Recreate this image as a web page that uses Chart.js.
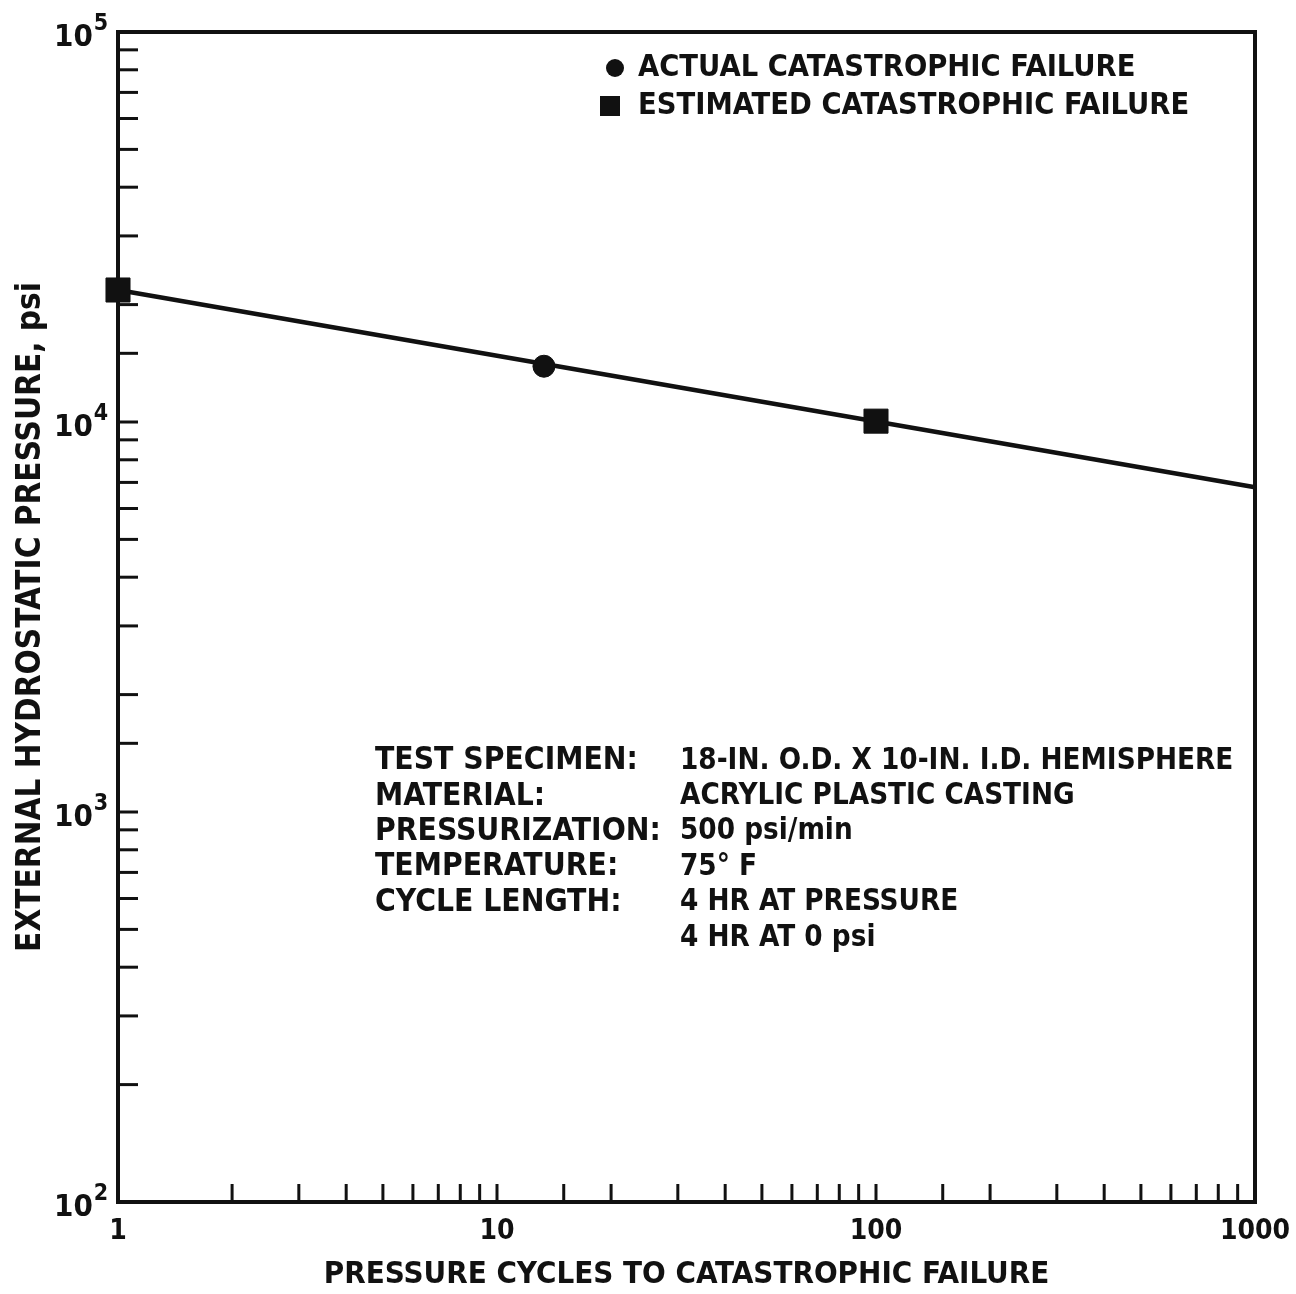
<!DOCTYPE html>
<html>
<head>
<meta charset="utf-8">
<script src="https://cdn.jsdelivr.net/npm/chart.js@4"></script>
<style>
  html, body { margin: 0; padding: 0; background: #fff; }
  #wrap { width: 1296px; height: 1294px; }
</style>
</head>
<body>
<div id="wrap"><canvas id="myChart" width="1296" height="1294"></canvas></div>
<script>
// data
const fitCycles = [1, 1000]
const fitPressure = [21800, 6800]
const actualCycles = [13.3]
const actualPressure = [13900]
const estimatedCycles = [1, 100]
const estimatedPressure = [21800, 10050]

const legendLabels = ['ACTUAL CATASTROPHIC FAILURE', 'ESTIMATED CATASTROPHIC FAILURE']
const noteKeys = ['TEST SPECIMEN:', 'MATERIAL:', 'PRESSURIZATION:', 'TEMPERATURE:', 'CYCLE LENGTH:', '']
const noteValues = ['18-IN. O.D. X 10-IN. I.D. HEMISPHERE', 'ACRYLIC PLASTIC CASTING', '500 psi/min', '75\u00B0 F', '4 HR AT PRESSURE', '4 HR AT 0 psi']
const xTickLabels = { 1: '1', 10: '10', 100: '100', 1000: '1000' }
const yTickValues = [100, 1000, 10000, 100000]
const yTickExponents = ['2', '3', '4', '5']

const FONT = "'Liberation Sans Narrow', 'DejaVu Sans Condensed', 'Liberation Sans', sans-serif"
const ink = '#111'

const pts = (xs, ys) => xs.map((x, i) => ({ x, y: ys[i] }))

// frame, inward ticks, power-of-ten labels, legend and the note block
const extras = {
    id: 'extras',
    afterDraw(chart) {
        const { ctx, chartArea: a, scales } = chart
        ctx.save()
        ctx.strokeStyle = ink
        ctx.lineWidth = 4
        ctx.strokeRect(a.left, a.top, a.right - a.left, a.bottom - a.top)

        ctx.lineWidth = 3
        const len = 18
        scales.x.ticks.forEach(t => {
            const px = scales.x.getPixelForValue(t.value)
            if (px <= a.left + 2 || px >= a.right - 2) return
            ctx.beginPath(); ctx.moveTo(px, a.bottom); ctx.lineTo(px, a.bottom - len); ctx.stroke()
        })
        scales.y.ticks.forEach(t => {
            const py = scales.y.getPixelForValue(t.value)
            if (py <= a.top + 2 || py >= a.bottom - 2) return
            ctx.beginPath(); ctx.moveTo(a.left, py); ctx.lineTo(a.left + 20, py); ctx.stroke()
        })

        ctx.fillStyle = ink
        ctx.textBaseline = 'middle'
        ctx.textAlign = 'left'

        // y labels 10^n
        yTickValues.forEach((v, i) => {
            const py = scales.y.getPixelForValue(v)
            ctx.font = 'bold 31px ' + FONT
            ctx.fillText('10', 54, py + 6)
            const w = ctx.measureText('10').width
            ctx.font = 'bold 23px ' + FONT
            ctx.fillText(yTickExponents[i], 54 + w + 1, py - 8)
        })

        ctx.font = 'bold 30.5px ' + FONT
        // legend
        ctx.beginPath(); ctx.arc(615, 68, 9, 0, Math.PI * 2); ctx.fill()
        ctx.fillText(legendLabels[0], 638, 68)
        ctx.fillRect(600, 96, 20, 20)
        ctx.fillText(legendLabels[1], 638, 106)

        // note block
        noteKeys.forEach((k, i) => {
            const y = 761 + i * 35.4
            ctx.font = 'bold 31.5px ' + FONT
            if (k) ctx.fillText(k, 375, y)
            ctx.font = 'bold 29.3px ' + FONT
            ctx.fillText(noteValues[i], 680, y)
        })
        ctx.restore()
    }
}

const ctx = document.getElementById('myChart').getContext('2d')

let config = {
    type: 'scatter',
    data: {
        datasets: [
            {
                label: 'fit',
                data: pts(fitCycles, fitPressure),
                showLine: true,
                borderColor: ink,
                borderWidth: 4.5,
                pointRadius: 0,
                order: 3
            },
            {
                label: legendLabels[0],
                data: pts(actualCycles, actualPressure),
                pointStyle: 'circle',
                pointRadius: 11,
                backgroundColor: ink,
                borderColor: ink,
                order: 1
            },
            {
                label: legendLabels[1],
                data: pts(estimatedCycles, estimatedPressure),
                pointStyle: 'rect',
                pointRadius: 17,
                backgroundColor: ink,
                borderColor: ink,
                order: 1
            }
        ]
    },
    options: {
        responsive: false,
        animation: false,
        clip: false,
        layout: { padding: { top: 32, right: 41, left: 0, bottom: 0 } },
        plugins: { legend: { display: false }, tooltip: { enabled: false } },
        scales: {
            x: {
                type: 'logarithmic',
                min: 1,
                max: 1000,
                grid: { display: false, drawTicks: false },
                border: { display: true, color: ink, width: 4 },
                ticks: {
                    autoSkip: false,
                    maxRotation: 0,
                    padding: 13,
                    color: ink,
                    font: { family: FONT, size: 28, weight: 'bold' },
                    callback: v => xTickLabels[v] || ''
                },
                title: {
                    display: true,
                    text: 'PRESSURE CYCLES TO CATASTROPHIC FAILURE',
                    color: ink,
                    font: { family: FONT, size: 31, weight: 'bold' },
                    padding: { top: 2, bottom: 0 }
                },
                afterFit: s => { s.height = 92; s.paddingLeft = 0; s.paddingRight = 0 }
            },
            y: {
                type: 'logarithmic',
                min: 100,
                max: 100000,
                grid: { display: false, drawTicks: false },
                border: { display: true, color: ink, width: 4 },
                ticks: {
                    autoSkip: false,
                    color: ink,
                    callback: () => ''
                },
                title: {
                    display: true,
                    text: 'EXTERNAL HYDROSTATIC PRESSURE, psi',
                    color: ink,
                    font: { family: FONT, size: 33, weight: 'bold' },
                    padding: { top: 12, bottom: 0 }
                },
                afterFit: s => { s.width = 118 }
            }
        }
    },
    plugins: [extras]
}

const chart = new Chart(ctx, config)
</script>
</body>
</html>
